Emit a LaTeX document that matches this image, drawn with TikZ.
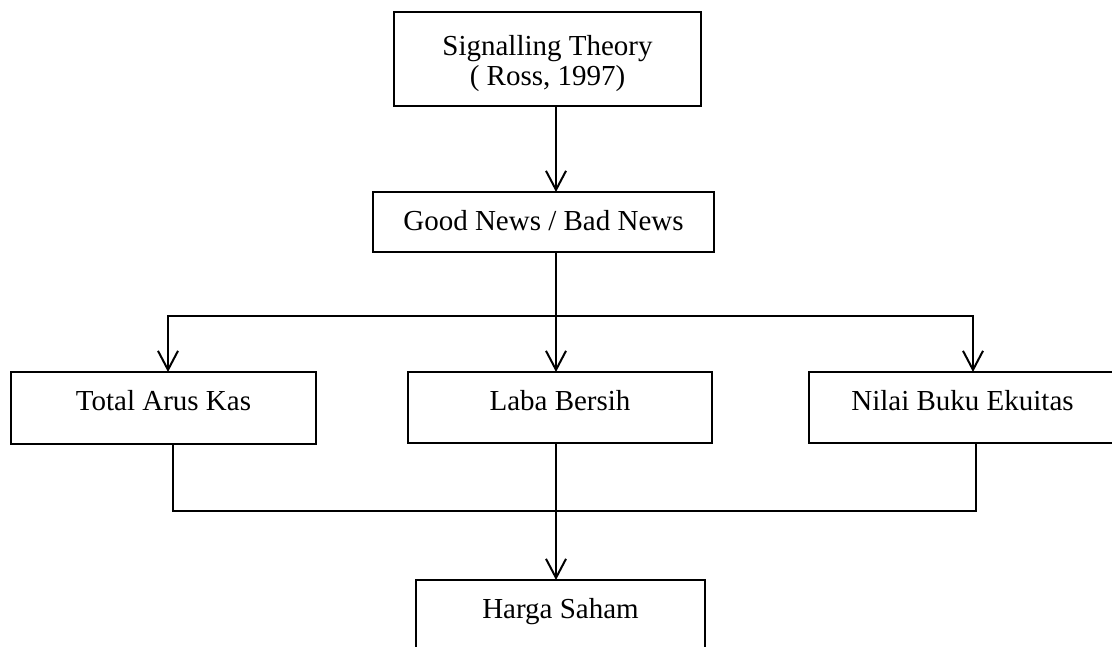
\documentclass[tikz,border=0pt]{standalone}
\usepackage{fontspec}
\setmainfont{Liberation Serif}
\usetikzlibrary{arrows.meta}
\begin{document}
\begin{tikzpicture}[x=1pt,y=-1pt,
  box/.style={draw, line width=2pt, inner sep=0pt, outer sep=0pt,
    font=\fontsize{29}{30}\selectfont, align=center},
  conn/.style={line width=2pt},
  arr/.style={conn, -{Straight Barb[length=19pt,width=20pt]}}]
\useasboundingbox (0,0) rectangle (1112,646);
\fill[white] (0,0) rectangle (1112,646);
\clip (0,0) rectangle (1112,646);
% boxes
\node[box, minimum width=307pt, text height=73pt, text depth=21pt] (top) at (547.5,59) {Signalling Theory\\( Ross, 1997)};
\node[box, minimum width=341pt, text height=38pt, text depth=22pt] (gn) at (543.5,222) {Good News / Bad News};
\node[box, minimum width=305pt, text height=38pt, text depth=34pt] (tak) at (163.5,408) {Total Arus Kas};
\node[box, minimum width=304pt, text height=38pt, text depth=33pt] (laba) at (560,407.5) {Laba Bersih};
\node[box, minimum width=307pt, text height=38pt, text depth=33pt] (nilai) at (962.5,407.5) {Nilai Buku Ekuitas};
\node[box, minimum width=289pt, text height=38pt, text depth=42pt] (harga) at (560.5,620) {Harga Saham};
% junction points
\coordinate (sp) at (556,316);
\coordinate (jl) at (168,316);
\coordinate (jr) at (973,316);
\coordinate (bl) at (173,511);
\coordinate (br) at (976,511);
% connectors
\draw[arr] (top.south -| sp) -- (gn.north -| sp);
\draw[arr] (gn.south -| sp) -- (laba.north -| sp);
\draw[arr] (sp) -- (jl) -- (tak.north -| jl);
\draw[arr] (sp) -- (jr) -- (nilai.north -| jr);
\draw[conn] (tak.south -| bl) -- (bl) -- (br) -- (nilai.south -| br);
\draw[arr] (laba.south -| sp) -- (harga.north -| sp);
\end{tikzpicture}
\end{document}
